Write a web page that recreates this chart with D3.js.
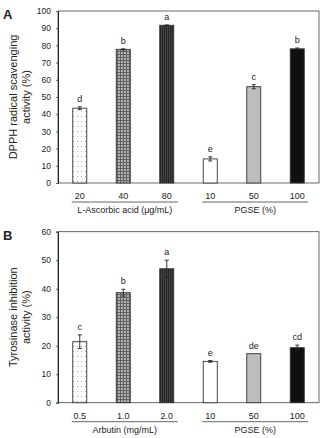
<!DOCTYPE html>
<html>
<head>
<meta charset="utf-8">
<script src="https://cdn.jsdelivr.net/npm/d3@7"></script>
<style>
  body { margin: 0; background: #fff; }
  svg text { font-family: "Liberation Sans", Arial, sans-serif; fill: #222; }
</style>
</head>
<body>
<svg id="chart" width="322" height="438"></svg>
<script>
// panel A - DPPH
const catsA = ["20", "40", "80", "10", "50", "100"];
const valuesA = [43.5, 77.7, 91.7, 14.0, 56.0, 78.0];
const errorsA = [0.8, 0.3, 0.2, 1.2, 1.2, 0.5];
const lettersA = ["d", "b", "a", "e", "c", "b"];
const groupsA = ["L-Ascorbic acid (\u03bcg/mL)", "PGSE (%)"];
const ticksA = [0, 10, 20, 30, 40, 50, 60, 70, 80, 90, 100];

// panel B - tyrosinase
const catsB = ["0.5", "1.0", "2.0", "10", "50", "100"];
const valuesB = [21.4, 38.6, 47.0, 14.5, 17.2, 19.3];
const errorsB = [2.4, 1.2, 3.0, 0.3, 0, 0.9];
const lettersB = ["c", "b", "a", "e", "de", "cd"];
const groupsB = ["Arbutin (mg/mL)", "PGSE (%)"];
const ticksB = [0, 10, 20, 30, 40, 50, 60];

const fills = ["url(#dots)", "url(#checker)", "url(#darkgrid)", "#fff", "#bdbdbd", "#111"];

const svg = d3.select("#chart");
const defs = svg.append("defs");

// sparse dotted pattern
const p1 = defs.append("pattern").attr("id", "dots").attr("patternUnits", "userSpaceOnUse")
  .attr("width", 4).attr("height", 5);
p1.append("rect").attr("width", 4).attr("height", 5).attr("fill", "#fff");
p1.append("rect").attr("x", 1).attr("y", 1).attr("width", 1).attr("height", 1).attr("fill", "#aaa");

// medium gray grid
const p2 = defs.append("pattern").attr("id", "checker").attr("patternUnits", "userSpaceOnUse")
  .attr("width", 3).attr("height", 3);
p2.append("rect").attr("width", 3).attr("height", 3).attr("fill", "#b4b4b4");
p2.append("rect").attr("width", 1).attr("height", 3).attr("fill", "#606060");
p2.append("rect").attr("width", 3).attr("height", 1).attr("fill", "#606060");

// dark grid
const p3 = defs.append("pattern").attr("id", "darkgrid").attr("patternUnits", "userSpaceOnUse")
  .attr("width", 2).attr("height", 3);
p3.append("rect").attr("width", 2).attr("height", 3).attr("fill", "#262626");
p3.append("rect").attr("x", 1).attr("width", 1).attr("height", 3).attr("fill", "#444");

const left = 58, right = 319;

function panel(cfg) {
  const { cats, values, errors, letters, groups, ticks, top, bottom, ymax, label, ylabel } = cfg;
  const g = svg.append("g");

  const x = d3.scaleBand().domain(cats.map((c, i) => i)).range([left, right]).padding(0);
  const y = d3.scaleLinear().domain([0, ymax]).range([bottom, top]);
  const bw = 14;

  // frame
  g.append("rect").attr("x", left).attr("y", top).attr("width", right - left).attr("height", bottom - top)
    .attr("fill", "none").attr("stroke", "#444").attr("stroke-width", 0.8);

  // y axis
  const yAxis = d3.axisLeft(y).tickValues(ticks).tickSize(2).tickPadding(5);
  const ya = g.append("g").attr("transform", `translate(${left},0)`).call(yAxis);
  ya.select(".domain").attr("stroke", "#222");
  ya.selectAll(".tick line").attr("stroke", "#666");
  ya.selectAll("text").attr("font-size", 8.5).attr("fill", "#222");

  // bars
  g.selectAll("rect.bar").data(values).join("rect")
    .attr("class", "bar")
    .attr("x", (d, i) => x(i) + x.bandwidth() / 2 - bw / 2)
    .attr("y", (d) => y(d))
    .attr("width", bw)
    .attr("height", (d) => bottom - y(d))
    .attr("fill", (d, i) => fills[i])
    .attr("stroke", "#333")
    .attr("stroke-width", 0.9);

  // error bars
  values.forEach((v, i) => {
    const e = errors[i];
    if (!e) return;
    const cx = x(i) + x.bandwidth() / 2;
    const eg = g.append("g").attr("stroke", "#222").attr("stroke-width", 0.9);
    eg.append("line").attr("x1", cx).attr("x2", cx).attr("y1", y(v - e)).attr("y2", y(v + e));
    eg.append("line").attr("x1", cx - 2).attr("x2", cx + 2).attr("y1", y(v + e)).attr("y2", y(v + e));
    eg.append("line").attr("x1", cx - 2).attr("x2", cx + 2).attr("y1", y(v - e)).attr("y2", y(v - e));
  });

  // significance letters
  g.selectAll("text.letter").data(values).join("text")
    .attr("class", "letter")
    .attr("x", (d, i) => x(i) + x.bandwidth() / 2)
    .attr("y", (d, i) => y(d + errors[i]) - 5)
    .attr("text-anchor", "middle")
    .attr("font-size", 9)
    .text((d, i) => letters[i]);

  // x category labels
  g.selectAll("text.cat").data(cats).join("text")
    .attr("class", "cat")
    .attr("x", (d, i) => x(i) + x.bandwidth() / 2)
    .attr("y", bottom + 16)
    .attr("text-anchor", "middle")
    .attr("font-size", 9)
    .text((d) => d);

  // group underlines + labels
  const spans = [[0, 2], [3, 5]];
  spans.forEach((s, k) => {
    const x0 = x(s[0]) + x.bandwidth() / 2 - 8;
    const x1 = x(s[1]) + x.bandwidth() / 2 + 11;
    g.append("line").attr("x1", x0).attr("x2", x1).attr("y1", bottom + 19).attr("y2", bottom + 19)
      .attr("stroke", "#555").attr("stroke-width", 0.9);
    g.append("text").attr("x", (x0 + x1) / 2).attr("y", bottom + 30)
      .attr("text-anchor", "middle").attr("font-size", 9).text(groups[k]);
  });

  // y title
  const midY = (top + bottom) / 2;
  g.append("text").attr("transform", `translate(17,${midY}) rotate(-90)`)
    .attr("text-anchor", "middle").attr("font-size", 11).text(ylabel[0]);
  g.append("text").attr("transform", `translate(30,${midY}) rotate(-90)`)
    .attr("text-anchor", "middle").attr("font-size", 11).text(ylabel[1]);

  // panel letter
  g.append("text").attr("x", 3).attr("y", top + 8).attr("font-size", 13).attr("font-weight", "bold")
    .attr("fill", "#111").text(label);
}

panel({ cats: catsA, values: valuesA, errors: errorsA, letters: lettersA, groups: groupsA, ticks: ticksA,
  top: 11, bottom: 183, ymax: 100, label: "A", ylabel: ["DPPH radical scavenging", "activity (%)"] });
panel({ cats: catsB, values: valuesB, errors: errorsB, letters: lettersB, groups: groupsB, ticks: ticksB,
  top: 231.7, bottom: 402.7, ymax: 60, label: "B", ylabel: ["Tyrosinase inhibition", "activity (%)"] });
</script>
</body>
</html>
